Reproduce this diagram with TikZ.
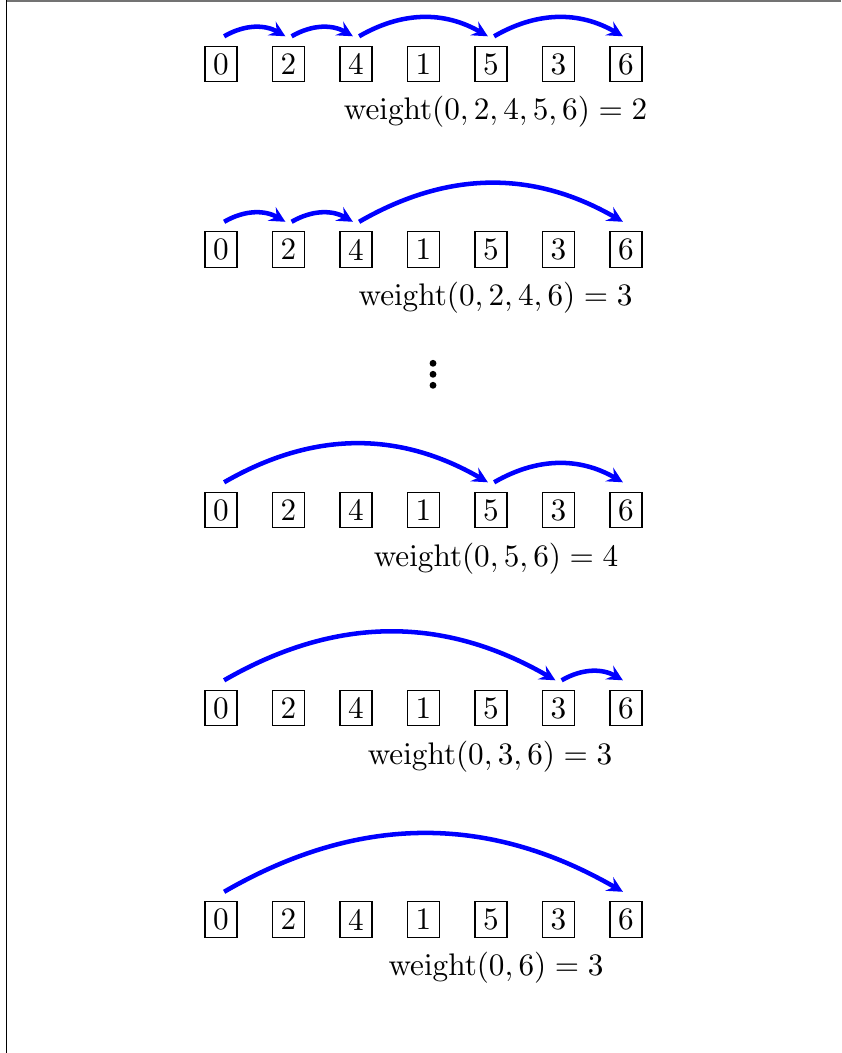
\documentclass[tikz,border=0pt]{standalone}
\usetikzlibrary{arrows.meta}
\begin{document}
\begin{tikzpicture}[x=0.3205pt,y=-0.3205pt,
  box/.style={draw,line width=0.4pt,inner sep=0pt,minimum width=10.27pt,minimum height=11.36pt},
  arr/.style={-{Stealth[length=5pt,width=5pt,inset=1.8pt]},line width=1.45pt,blue},
  lbl/.style={anchor=base}]
\useasboundingbox (0,0) rectangle (841,1053);
\draw[line width=0.64pt,black!55] (6,1) -- (841,1);
\draw[line width=0.42pt,black] (6.7,0) -- (6.7,1053);
% rows of boxes
\foreach \r/\yy in {1/64,2/249.5,3/510,4/708,5/919.5}{
  \foreach \v [count=\i] in {0,2,4,1,5,3,6}{
    \node[box] (r\r-\v) at ({221+67.5*(\i-1)},\yy) {\v};
  }
}
% labels
\node[lbl] (l1) at (495.5,120) {$\mathrm{weight}(0,2,4,5,6)=2$};
\node[lbl] (l2) at (495.5,305.5) {$\mathrm{weight}(0,2,4,6)=3$};
\node[lbl] (l3) at (496,566) {$\mathrm{weight}(0,5,6)=4$};
\node[lbl] (l4) at (490,764) {$\mathrm{weight}(0,3,6)=3$};
\node[lbl] (l5) at (496,975.5) {$\mathrm{weight}(0,6)=3$};
% dots
\foreach \yy in {363.3,374.3,385.3}{\fill (433,\yy) circle[radius=1.1pt];}
% arrows
\newcommand\jump[3]{\draw[arr] ([shift={(1pt,3pt)}]r#1-#2.north) to[bend left=30] ([shift={(-1pt,3pt)}]r#1-#3.north);}
\jump{1}{0}{2}\jump{1}{2}{4}\jump{1}{4}{5}\jump{1}{5}{6}
\jump{2}{0}{2}\jump{2}{2}{4}\jump{2}{4}{6}
\jump{3}{0}{5}\jump{3}{5}{6}
\jump{4}{0}{3}\jump{4}{3}{6}
\jump{5}{0}{6}
\end{tikzpicture}
\end{document}
